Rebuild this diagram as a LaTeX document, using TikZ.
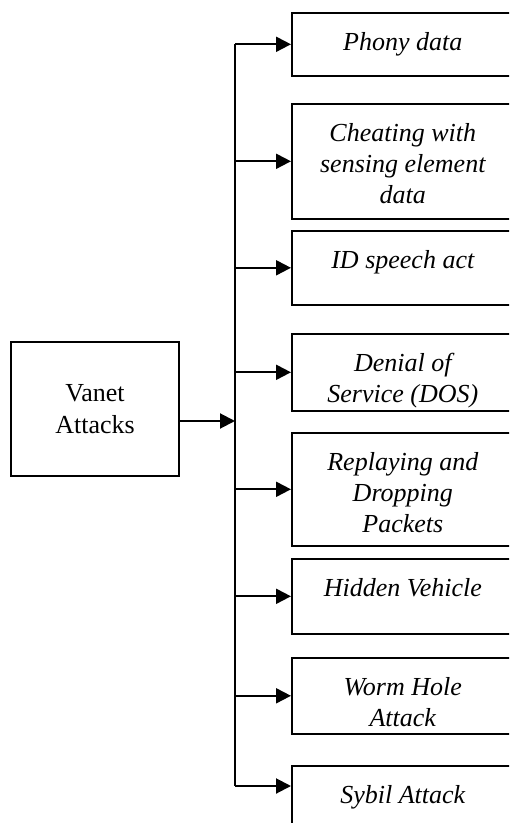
\documentclass[tikz,border=0pt]{standalone}
\usepackage{fontspec}
\setmainfont{Liberation Serif}
\usetikzlibrary{positioning,arrows.meta}

\begin{document}
\begin{tikzpicture}[x=0.5pt,y=-0.5pt]
    \tikzstyle{root} = [rectangle, draw, line width=0.8pt, minimum width=84pt,
    minimum height=67pt, align=center,
    font=\fontsize{13pt}{16pt}\selectfont]
    \tikzstyle{attack} = [rectangle, draw, line width=0.8pt, minimum width=111pt,
    anchor=north west, inner sep=0pt]
    \tikzstyle{attacktext} = [inner sep=0pt, align=center,
    font=\fontsize{13pt}{15.5pt}\selectfont\itshape]
    \tikzstyle{line} = [draw, line width=1pt, -{Triangle[length=7.5pt,width=7.5pt]}]

    \useasboundingbox (0,0) rectangle (509,823);
    \clip (0,0) rectangle (509,823);

    % Root
    \node[root] (vanet) at (95,409) {Vanet\\Attacks};

    % Attack boxes
    \node[attack, minimum height=31.5pt] (phony) at (291,12) {};
    \node[attack, minimum height=57.5pt] (cheat) at (291,103) {};
    \node[attack, minimum height=37pt] (idsp) at (291,230) {};
    \node[attack, minimum height=38.5pt] (dos) at (291,333) {};
    \node[attack, minimum height=56.5pt] (replay) at (291,432) {};
    \node[attack, minimum height=37.5pt] (hidden) at (291,558) {};
    \node[attack, minimum height=38pt] (worm) at (291,657) {};
    \node[attack, minimum height=40pt] (sybil) at (291,765) {};

    % Texts, top aligned
    \node[attacktext, below=10pt of phony.north] (phonytxt) {Phony data};
    \node[attacktext, below=10pt of cheat.north] (cheattxt) {Cheating with\\sensing element\\data};
    \node[attacktext, below=10pt of idsp.north] (idsptxt) {ID speech act};
    \node[attacktext, below=10pt of dos.north] (dostxt) {Denial of\\Service (DOS)};
    \node[attacktext, below=10pt of replay.north] (replaytxt) {Replaying and\\Dropping\\Packets};
    \node[attacktext, below=10pt of hidden.north] (hiddentxt) {Hidden Vehicle};
    \node[attacktext, below=10pt of worm.north] (wormtxt) {Worm Hole\\Attack};
    \node[attacktext, below=10pt of sybil.north] (sybiltxt) {Sybil Attack};

    % Connectors
    \coordinate (trunk) at (235,0);
    \coordinate (sybilin) at ([yshift=-10.5pt]sybil.north west);
    \coordinate (vanetout) at ([yshift=-6pt]vanet.east);
    \draw[line width=1pt] (trunk |- phony.west) -- (trunk |- sybilin);
    \draw[line] (vanetout) -- (trunk |- vanetout);
    \foreach \n in {phony,cheat,idsp,dos,replay,hidden,worm}
      \draw[line] (trunk |- \n.west) -- (\n.west);
    \draw[line] (trunk |- sybilin) -- (sybilin);

\end{tikzpicture}
\end{document}
